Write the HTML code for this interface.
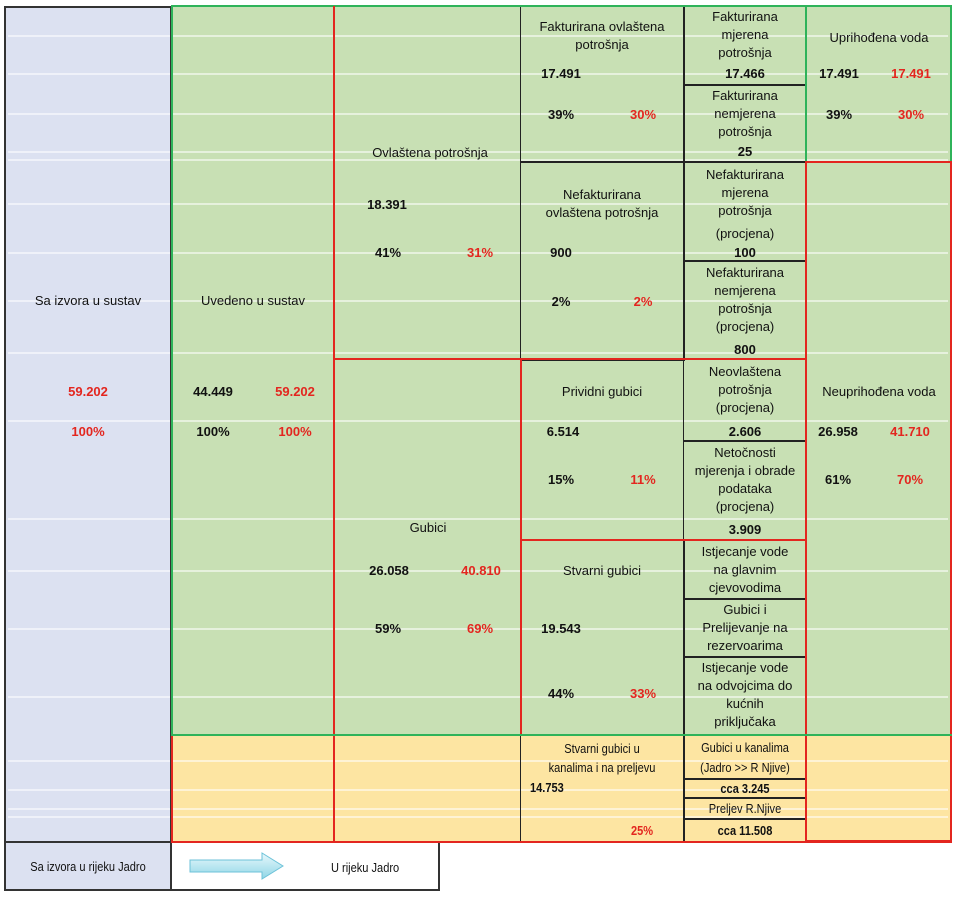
<!DOCTYPE html>
<html><head><meta charset="utf-8"><style>
body{margin:0;background:#fff;width:960px;height:899px;position:relative;overflow:hidden;font-family:"Liberation Sans",sans-serif;color:#111}
.b{position:absolute;box-sizing:border-box}
.t{position:absolute;font-size:13px;line-height:18px;white-space:nowrap}
.c{transform:translateX(-50%);text-align:center}
.bo{font-weight:bold}
.r{color:#e3261f;font-weight:bold}
.n{font-size:13px;transform-origin:0 0;transform:scaleX(.85)}
.c.n{transform-origin:50% 0;transform:translateX(-50%) scaleX(.85)}
.wl{position:absolute;height:2px;background:rgba(255,255,255,0.55)}
</style></head><body>
<div class="b" style="left:4px;top:6px;width:168px;height:884px;background:#dce1f1"></div>
<div class="b" style="left:172px;top:6px;width:779px;height:729px;background:#c8e0b4"></div>
<div class="b" style="left:172px;top:735px;width:779px;height:107px;background:#fde5a2"></div>
<div class="b" style="left:172px;top:842px;width:268px;height:48px;background:#fff"></div>
<div class="wl" style="left:8px;width:940px;top:35px"></div>
<div class="wl" style="left:8px;width:940px;top:73px"></div>
<div class="wl" style="left:8px;width:940px;top:113px"></div>
<div class="wl" style="left:8px;width:940px;top:151px"></div>
<div class="wl" style="left:8px;width:940px;top:159px"></div>
<div class="wl" style="left:8px;width:940px;top:203px"></div>
<div class="wl" style="left:8px;width:940px;top:252px"></div>
<div class="wl" style="left:8px;width:940px;top:300px"></div>
<div class="wl" style="left:8px;width:940px;top:352px"></div>
<div class="wl" style="left:8px;width:940px;top:420px"></div>
<div class="wl" style="left:8px;width:940px;top:518px"></div>
<div class="wl" style="left:8px;width:940px;top:570px"></div>
<div class="wl" style="left:8px;width:940px;top:628px"></div>
<div class="wl" style="left:8px;width:940px;top:696px"></div>
<div class="wl" style="left:8px;width:940px;top:760px"></div>
<div class="wl" style="left:8px;width:940px;top:789px"></div>
<div class="wl" style="left:8px;width:940px;top:808px"></div>
<div class="wl" style="left:8px;width:940px;top:816px"></div>
<div class="b" style="left:4px;top:6px;width:168px;height:885px;border:2px solid #333"></div>
<div class="b" style="left:4px;top:841px;width:436px;height:50px;border:2px solid #333"></div>
<div class="b" style="left:520px;top:6px;width:165px;height:157px;border:1.5px solid #222"></div>
<div class="b" style="left:520px;top:161px;width:165px;height:200px;border:1.5px solid #222"></div>
<div class="b" style="left:520px;top:539px;width:165px;height:197px;border:1.5px solid #222"></div>
<div class="b" style="left:520px;top:734px;width:165px;height:109px;border:1.5px solid #222"></div>
<div class="b" style="left:683px;top:6px;width:124px;height:80px;border:1.5px solid #222"></div>
<div class="b" style="left:683px;top:84px;width:124px;height:79px;border:1.5px solid #222"></div>
<div class="b" style="left:683px;top:161px;width:124px;height:101px;border:1.5px solid #222"></div>
<div class="b" style="left:683px;top:260px;width:124px;height:100px;border:1.5px solid #222"></div>
<div class="b" style="left:683px;top:358px;width:124px;height:84px;border:1.5px solid #222"></div>
<div class="b" style="left:683px;top:440px;width:124px;height:101px;border:1.5px solid #222"></div>
<div class="b" style="left:683px;top:539px;width:124px;height:61px;border:1.5px solid #222"></div>
<div class="b" style="left:683px;top:598px;width:124px;height:60px;border:1.5px solid #222"></div>
<div class="b" style="left:683px;top:656px;width:124px;height:80px;border:1.5px solid #222"></div>
<div class="b" style="left:683px;top:734px;width:124px;height:46px;border:1.5px solid #222"></div>
<div class="b" style="left:683px;top:778px;width:124px;height:21px;border:1.5px solid #222"></div>
<div class="b" style="left:683px;top:797px;width:124px;height:23px;border:1.5px solid #222"></div>
<div class="b" style="left:683px;top:818px;width:124px;height:25px;border:1.5px solid #222"></div>
<div class="b" style="left:171px;top:5px;width:781px;height:731px;border:2px solid #2fb35a"></div>
<div class="b" style="left:805px;top:5px;width:147px;height:158px;border:2px solid #2fb35a"></div>
<div class="b" style="left:333px;top:6px;width:2px;height:836px;background:#e3261f"></div>
<div class="b" style="left:333px;top:358px;width:189px;height:378px;border:2px solid #e3261f"></div>
<div class="b" style="left:520px;top:358px;width:287px;height:183px;border:2px solid #e3261f"></div>
<div class="b" style="left:805px;top:161px;width:147px;height:681px;border:2px solid #e3261f"></div>
<div class="b" style="left:171px;top:734px;width:781px;height:109px;border:2px solid #e3261f"></div>
<div class="b" style="left:171px;top:734px;width:781px;height:2px;background:#2fb35a"></div>
<div class="t c" style="left:88px;top:292px">Sa izvora u sustav</div>
<div class="t c r" style="left:88px;top:383px">59.202</div>
<div class="t c r" style="left:88px;top:423px">100%</div>
<div class="t c" style="left:253px;top:292px">Uvedeno u sustav</div>
<div class="t c bo" style="left:213px;top:383px">44.449</div>
<div class="t c r" style="left:295px;top:383px">59.202</div>
<div class="t c bo" style="left:213px;top:423px">100%</div>
<div class="t c r" style="left:295px;top:423px">100%</div>
<div class="t c" style="left:430px;top:144px">Ovlaštena potrošnja</div>
<div class="t c bo" style="left:387px;top:196px">18.391</div>
<div class="t c bo" style="left:388px;top:244px">41%</div>
<div class="t c r" style="left:480px;top:244px">31%</div>
<div class="t c" style="left:428px;top:519px">Gubici</div>
<div class="t c bo" style="left:389px;top:562px">26.058</div>
<div class="t c r" style="left:481px;top:562px">40.810</div>
<div class="t c bo" style="left:388px;top:620px">59%</div>
<div class="t c r" style="left:480px;top:620px">69%</div>
<div class="t c" style="left:602px;top:18px">Fakturirana ovlaštena<br>potrošnja</div>
<div class="t c bo" style="left:561px;top:65px">17.491</div>
<div class="t c bo" style="left:561px;top:106px">39%</div>
<div class="t c r" style="left:643px;top:106px">30%</div>
<div class="t c" style="left:602px;top:186px">Nefakturirana<br>ovlaštena potrošnja</div>
<div class="t c bo" style="left:561px;top:244px">900</div>
<div class="t c bo" style="left:561px;top:293px">2%</div>
<div class="t c r" style="left:643px;top:293px">2%</div>
<div class="t c" style="left:602px;top:383px">Prividni gubici</div>
<div class="t c bo" style="left:563px;top:423px">6.514</div>
<div class="t c bo" style="left:561px;top:471px">15%</div>
<div class="t c r" style="left:643px;top:471px">11%</div>
<div class="t c" style="left:602px;top:562px">Stvarni gubici</div>
<div class="t c bo" style="left:561px;top:620px">19.543</div>
<div class="t c bo" style="left:561px;top:685px">44%</div>
<div class="t c r" style="left:643px;top:685px">33%</div>
<div class="t c n" style="left:602px;top:739px;line-height:19px">Stvarni gubici u<br>kanalima i na preljevu</div>
<div class="t bo n" style="left:530px;top:779px">14.753</div>
<div class="t r n" style="left:631px;top:822px">25%</div>
<div class="t c" style="left:745px;top:8px">Fakturirana<br>mjerena<br>potrošnja</div>
<div class="t c bo" style="left:745px;top:65px">17.466</div>
<div class="t c" style="left:745px;top:87px">Fakturirana<br>nemjerena<br>potrošnja</div>
<div class="t c bo" style="left:745px;top:143px">25</div>
<div class="t c" style="left:745px;top:166px">Nefakturirana<br>mjerena<br>potrošnja</div>
<div class="t c" style="left:745px;top:225px">(procjena)</div>
<div class="t c bo" style="left:745px;top:244px">100</div>
<div class="t c" style="left:745px;top:264px">Nefakturirana<br>nemjerena<br>potrošnja<br>(procjena)</div>
<div class="t c bo" style="left:745px;top:341px">800</div>
<div class="t c" style="left:745px;top:363px">Neovlaštena<br>potrošnja<br>(procjena)</div>
<div class="t c bo" style="left:745px;top:423px">2.606</div>
<div class="t c" style="left:745px;top:444px">Netočnosti<br>mjerenja i obrade<br>podataka<br>(procjena)</div>
<div class="t c bo" style="left:745px;top:521px">3.909</div>
<div class="t c" style="left:745px;top:543px">Istjecanje vode<br>na glavnim<br>cjevovodima</div>
<div class="t c" style="left:745px;top:601px">Gubici i<br>Prelijevanje na<br>rezervoarima</div>
<div class="t c" style="left:745px;top:659px">Istjecanje vode<br>na odvojcima do<br>kućnih<br>priključaka</div>
<div class="t c n" style="left:745px;top:738px;line-height:20px">Gubici u kanalima<br>(Jadro &gt;&gt; R Njive)</div>
<div class="t c n bo" style="left:745px;top:780px">cca 3.245</div>
<div class="t c n" style="left:745px;top:800px">Preljev R.Njive</div>
<div class="t c n bo" style="left:745px;top:822px">cca 11.508</div>
<div class="t c" style="left:879px;top:29px">Uprihođena voda</div>
<div class="t c bo" style="left:839px;top:65px">17.491</div>
<div class="t c r" style="left:911px;top:65px">17.491</div>
<div class="t c bo" style="left:839px;top:106px">39%</div>
<div class="t c r" style="left:911px;top:106px">30%</div>
<div class="t c" style="left:879px;top:383px">Neuprihođena voda</div>
<div class="t c bo" style="left:838px;top:423px">26.958</div>
<div class="t c r" style="left:910px;top:423px">41.710</div>
<div class="t c bo" style="left:838px;top:471px">61%</div>
<div class="t c r" style="left:910px;top:471px">70%</div>
<div class="t c n" style="left:88px;top:858px">Sa izvora u rijeku Jadro</div>
<svg style="position:absolute;left:188px;top:851px" width="98" height="30">
<defs><linearGradient id="g" x1="0" y1="0" x2="0" y2="1"><stop offset="0" stop-color="#e8f8fc"/><stop offset="1" stop-color="#8fd6e6"/></linearGradient></defs>
<path d="M2 9 H74 V2 L95 15 L74 28 V21 H2 Z" fill="url(#g)" stroke="#6cc2d8" stroke-width="1"/>
</svg>
<div class="t n" style="left:331px;top:859px">U rijeku Jadro</div>
</body></html>
